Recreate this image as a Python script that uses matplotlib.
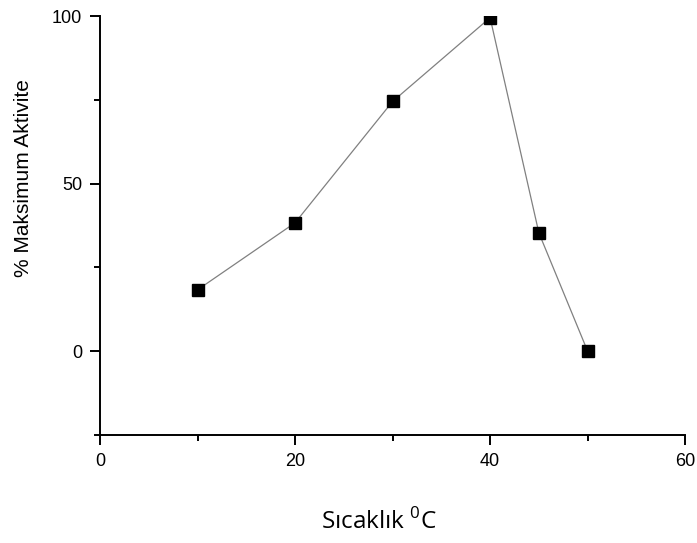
import matplotlib.pyplot as plt
from matplotlib.ticker import FixedLocator

plt.rcParams['font.family'] = ['Liberation Sans', 'DejaVu Sans']

# veri
sicaklik = [10, 20, 30, 40, 45, 50]
aktivite = [18.3, 38.3, 74.5, 99.5, 35.3, 0.0]

fig = plt.figure(figsize=(6.97, 5.43), dpi=100)
ax = fig.add_axes([0.1435, 0.199, 0.8395, 0.7715])

ax.plot(sicaklik, aktivite, color='#808080', linewidth=0.9, zorder=1)
ax.plot(sicaklik, aktivite, 's', color='black', markersize=8, zorder=2)

ax.set_xlim(0, 60)
ax.set_ylim(-25, 100)
ax.set_xticks([0, 20, 40, 60])
ax.xaxis.set_minor_locator(FixedLocator([10, 30, 50]))
ax.set_yticks([0, 50, 100])
ax.yaxis.set_minor_locator(FixedLocator([25, 75]))

for s in ['top', 'right']:
    ax.spines[s].set_visible(False)
for s in ['left', 'bottom']:
    ax.spines[s].set_linewidth(1.4)
# x ekseni y ekseninin biraz solundan başlıyor
ax.spines['bottom'].set_bounds(-0.5, 60)

ax.tick_params(which='major', direction='out', length=7, width=1.4,
               labelsize=13, pad=6)
ax.tick_params(which='minor', direction='out', length=4, width=1.4)

ax.set_ylabel('% Maksimum Aktivite', fontsize=15)
ax.yaxis.set_label_coords(-0.131, 0.613)
ax.yaxis.label.set_va('center')

ax.set_xlabel('Sıcaklık $^\\mathregular{0}$C', fontsize=17.5, family='Open Sans')
ax.xaxis.set_label_coords(0.477, -0.224)
ax.xaxis.label.set_va('baseline')

fig.savefig('out.png', dpi=100)
